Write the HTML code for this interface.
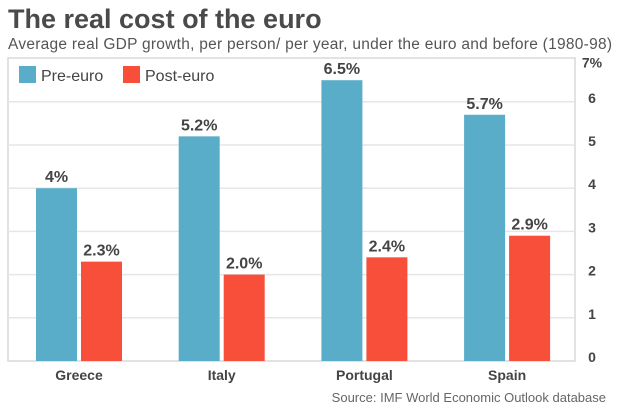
<!DOCTYPE html>
<html><head><meta charset="utf-8"><style>
body{margin:0;background:#fff;width:620px;height:412px;overflow:hidden;font-family:"Liberation Sans",sans-serif}
</style></head><body>
<svg width="620" height="412" xmlns="http://www.w3.org/2000/svg">
<text x="8" y="28" font-size="27" font-weight="bold" fill="#4a4a4a">The real cost of the euro</text>
<text x="8" y="49" font-size="15.5" fill="#555" textLength="604">Average real GDP growth, per person/ per year, under the euro and before (1980-98)</text>
<rect x="8" y="58" width="567" height="303" fill="none" stroke="#d8d8d8" stroke-width="1.5"/>
<g id="grid"></g>
<g id="bars"></g>
<g>
<rect x="19" y="66" width="17" height="17" fill="#5aadc9"/>
<text x="41" y="81" font-size="16" fill="#444">Pre-euro</text>
<rect x="123" y="66" width="17" height="17" fill="#f74f3a"/>
<text x="145" y="81" font-size="16" fill="#444">Post-euro</text>
</g>
<text x="606" y="402" font-size="13" fill="#666" text-anchor="end">Source: IMF World Economic Outlook database</text>
</svg>
<script>
const categories=["Greece","Italy","Portugal","Spain"];
const preEuro=[4.0,5.2,6.5,5.7];
const postEuro=[2.3,2.0,2.4,2.9];
const preLabels=["4%","5.2%","6.5%","5.7%"];
const postLabels=["2.3%","2.0%","2.4%","2.9%"];
const ticks=[0,1,2,3,4,5,6,7];
const tickLabels=["0","1","2","3","4","5","6","7%"];
const NS="http://www.w3.org/2000/svg";
const y0=361,unit=43.2;
const y=v=>y0-v*unit;
const x=i=>79+i*142.7;
function mk(tag,attrs,parent){const e=document.createElementNS(NS,tag);for(const k in attrs)e.setAttribute(k,attrs[k]);parent.appendChild(e);return e;}
const grid=document.getElementById('grid'),bars=document.getElementById('bars');
ticks.forEach((t,i)=>{
 if(t>0&&t<7){const l=mk('line',{x1:8,x2:575,y1:y(t),y2:y(t),stroke:'#e6e6e6','stroke-width':1.5},grid);
 
 }
 const tx=mk('text',{x:592,y:y(t)+1+(i===ticks.length-1?8:0),'font-size':14,'font-weight':'bold',fill:'#444','text-anchor':'middle'},grid);
 tx.textContent=tickLabels[i];
 
 
});
categories.forEach((c,i)=>{
 const cx=x(i);
 const b1=mk('rect',{x:cx-43,y:y(preEuro[i]),width:41,height:y0-y(preEuro[i]),fill:'#5aadc9'},bars);
 
 
 const b2=mk('rect',{x:cx+2,y:y(postEuro[i]),width:41,height:y0-y(postEuro[i]),fill:'#f74f3a'},bars);
 
 
 const l1=mk('text',{x:cx-22.5,y:y(preEuro[i])-6,'font-size':16,'font-weight':'bold',fill:'#444','text-anchor':'middle'},bars);
 l1.textContent=preLabels[i];
 
 
 const l2=mk('text',{x:cx+22.5,y:y(postEuro[i])-6,'font-size':16,'font-weight':'bold',fill:'#444','text-anchor':'middle'},bars);
 l2.textContent=postLabels[i];
 
 
 const cl=mk('text',{x:cx,y:380,'font-size':14,'font-weight':'bold',fill:'#444','text-anchor':'middle'},bars);
 cl.textContent=c;
 
 
});
</script>
</body></html>
